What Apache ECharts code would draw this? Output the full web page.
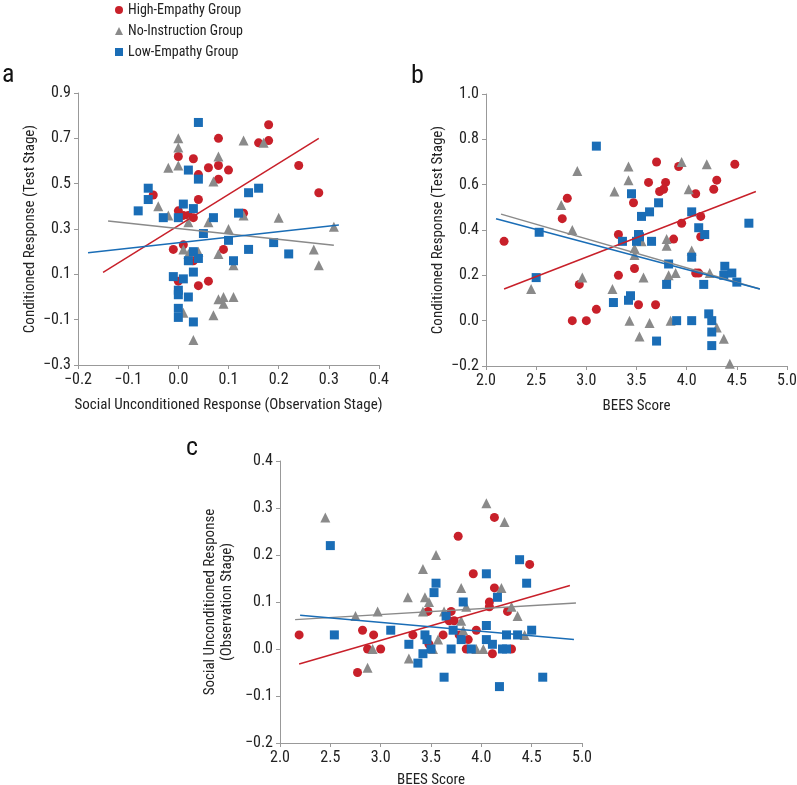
<!DOCTYPE html>
<html><head><meta charset="utf-8">
<script src="https://cdn.jsdelivr.net/npm/echarts@6/dist/echarts.min.js"></script>
<style>html,body{margin:0;padding:0;background:#fff}#c{width:797px;height:785px}</style>
</head><body><div id="c"></div>
<script>
// ---------- data ----------
const groupNames = ['High-Empathy Group', 'No-Instruction Group', 'Low-Empathy Group'];
// Panel a: x = Social Unconditioned Response, y = Conditioned Response
const aHigh = [[0.18,0.76],[0.18,0.69],[0.16,0.68],[0.08,0.70],[0.0,0.62],[0.03,0.61],[0.06,0.57],[0.08,0.58],[0.10,0.56],[0.04,0.54],[0.08,0.52],[0.24,0.58],[0.28,0.46],[-0.05,0.45],[0.04,0.43],[0.0,0.38],[0.01,0.36],[0.02,0.36],[0.03,0.35],[0.13,0.37],[-0.01,0.21],[0.01,0.23],[0.09,0.21],[0.03,0.16],[0.0,0.07],[0.04,0.05],[0.06,0.07]];
const aNo = [[0.0,0.70],[0.0,0.66],[-0.02,0.57],[0.0,0.58],[0.08,0.62],[0.07,0.51],[0.13,0.69],[0.17,0.68],[-0.04,0.40],[-0.02,0.36],[0.02,0.33],[0.06,0.33],[0.13,0.36],[0.20,0.35],[0.10,0.30],[0.31,0.31],[0.27,0.21],[0.28,0.14],[0.01,0.21],[0.02,0.19],[0.04,0.20],[0.08,0.19],[0.11,0.14],[0.08,-0.01],[0.09,0.0],[0.11,0.0],[0.09,-0.03],[0.07,-0.08],[0.01,-0.07],[0.03,-0.19]];
const aLow = [[0.04,0.77],[0.02,0.56],[0.04,0.52],[-0.06,0.48],[-0.06,0.43],[-0.08,0.38],[-0.03,0.35],[0.0,0.35],[0.01,0.41],[0.03,0.39],[0.07,0.35],[0.05,0.28],[0.12,0.37],[0.14,0.46],[0.16,0.48],[0.10,0.25],[0.14,0.21],[0.19,0.24],[0.22,0.19],[0.11,0.16],[0.03,0.20],[0.02,0.16],[0.04,0.17],[-0.01,0.09],[0.01,0.08],[0.03,0.11],[0.0,0.03],[0.0,0.01],[0.02,0.0],[0.0,-0.05],[0.0,-0.09],[0.03,-0.11]];
const aHighFit = [[-0.15,0.109],[0.28,0.70]];
const aNoFit = [[-0.14,0.335],[0.31,0.228]];
const aLowFit = [[-0.18,0.195],[0.32,0.318]];
// Panel b: x = BEES Score, y = Conditioned Response
const bHigh = [[2.18,0.35],[2.81,0.54],[2.76,0.45],[2.93,0.16],[2.86,0.0],[3.0,0.0],[3.10,0.05],[3.32,0.38],[3.32,0.20],[3.47,0.52],[3.48,0.23],[3.52,0.38],[3.52,0.07],[3.62,0.61],[3.70,0.70],[3.69,0.07],[3.73,0.57],[3.77,0.58],[3.79,0.61],[3.87,0.36],[3.92,0.68],[3.95,0.43],[4.09,0.56],[4.09,0.21],[4.12,0.21],[4.14,0.46],[4.14,0.37],[4.27,0.58],[4.30,0.62],[4.48,0.69]];
const bNo = [[2.45,0.14],[2.75,0.51],[2.86,0.40],[2.91,0.66],[2.96,0.19],[3.28,0.57],[3.26,0.14],[3.42,0.68],[3.42,0.62],[3.43,0.0],[3.48,0.32],[3.48,0.29],[3.55,0.35],[3.57,0.19],[3.53,-0.07],[3.63,-0.01],[3.80,0.36],[3.80,0.33],[3.82,0.20],[3.89,0.21],[3.84,0.0],[3.95,0.70],[4.02,0.58],[4.05,0.31],[4.20,0.69],[4.23,0.21],[4.30,-0.03],[4.37,-0.08],[4.43,-0.19]];
const bLow = [[3.10,0.77],[2.53,0.39],[2.50,0.19],[3.27,0.08],[3.36,0.35],[3.44,0.11],[3.42,0.09],[3.45,0.56],[3.50,0.35],[3.52,0.38],[3.53,0.37],[3.55,0.46],[3.63,0.48],[3.65,0.35],[3.72,0.52],[3.70,-0.09],[3.80,0.16],[3.82,0.25],[3.90,0.0],[4.05,0.48],[4.05,0.28],[4.05,0.0],[4.12,0.41],[4.18,0.38],[4.17,0.16],[4.22,0.03],[4.25,0.0],[4.25,-0.05],[4.25,-0.11],[4.38,0.24],[4.37,0.20],[4.45,0.21],[4.50,0.17],[4.62,0.43]];
const bHighFit = [[2.18,0.14],[4.69,0.57]];
const bNoFit = [[2.15,0.47],[4.73,0.14]];
const bLowFit = [[2.10,0.45],[4.73,0.14]];
// Panel c: x = BEES Score, y = Social Unconditioned Response
const cHigh = [[2.19,0.03],[2.77,-0.05],[2.82,0.04],[2.87,0.0],[2.93,0.03],[3.0,0.0],[3.32,0.03],[3.47,0.08],[3.48,0.01],[3.62,0.03],[3.70,0.08],[3.68,0.06],[3.73,0.06],[3.77,0.24],[3.78,0.03],[3.87,0.02],[3.85,0.0],[3.92,0.16],[3.95,0.04],[4.08,0.10],[4.08,0.09],[4.11,-0.01],[4.13,0.28],[4.13,0.13],[4.26,0.08],[4.30,0.0],[4.48,0.18]];
const cNo = [[2.45,0.28],[2.75,0.07],[2.87,-0.04],[2.92,0.0],[2.97,0.08],[3.27,0.11],[3.28,-0.02],[3.42,0.17],[3.44,0.11],[3.42,0.08],[3.48,0.10],[3.55,0.20],[3.57,0.02],[3.52,0.0],[3.63,0.08],[3.80,0.13],[3.80,0.06],[3.82,0.04],[3.85,0.09],[3.95,0.0],[4.02,0.0],[4.05,0.31],[4.20,0.13],[4.23,0.27],[4.30,0.09],[4.36,0.07],[4.43,0.03]];
const cLow = [[2.50,0.22],[2.54,0.03],[3.10,0.04],[3.28,0.01],[3.37,-0.03],[3.42,-0.01],[3.44,0.03],[3.46,0.02],[3.50,0.0],[3.53,0.12],[3.55,0.14],[3.65,0.07],[3.63,-0.06],[3.70,0.0],[3.72,0.04],[3.80,0.02],[3.82,0.10],[3.90,0.0],[4.05,0.16],[4.05,0.05],[4.05,0.02],[4.11,0.01],[4.16,0.11],[4.18,-0.08],[4.21,0.0],[4.25,0.0],[4.25,0.03],[4.36,0.03],[4.38,0.19],[4.45,0.14],[4.50,0.04],[4.61,-0.06]];
const cHighFit = [[2.19,-0.032],[4.88,0.135]];
const cNoFit = [[2.15,0.0625],[4.94,0.098]];
const cLowFit = [[2.20,0.072],[4.92,0.02]];
const panelLabels = ['a','b','c'];
const xTitles = ['Social Unconditioned Response (Observation Stage)','BEES Score','BEES Score'];
const yTitles = ['Conditioned Response (Test Stage)','Conditioned Response (Test Stage)','Social Unconditioned Response\n(Observation Stage)'];

// ---------- styling ----------
const FONT = '"Liberation Sans Narrow", "Roboto Condensed", "Liberation Sans", sans-serif';
const RED = '#c8202a', GRAY = '#8a8a8a', BLUE = '#1a6db6';
const colors = [RED, GRAY, BLUE];
const symbols = ['circle', 'triangle', 'rect'];
const sizes = [9, 10, 9];

function fmt(v){ if (Math.abs(v) < 1e-9) return '0.0'; return (v < 0 ? '\u2212' : '') + Math.abs(v).toFixed(1); }

function axisBase(){
  return {
    axisLine: {show: true, onZero: false, lineStyle: {color: '#999', width: 1}},
    axisTick: {show: true, length: 4, lineStyle: {color: '#999'}},
    splitLine: {show: false},
    axisLabel: {color: '#222', fontSize: 16, fontFamily: FONT, formatter: fmt, margin: 7},
    nameLocation: 'middle',
    nameTextStyle: {color: '#222', fontSize: 15, fontFamily: FONT, lineHeight: 17}
  };
}

const grids = [
  {left: 78, top: 93, width: 301, height: 272, containLabel: false, outerBoundsMode: 'none'},
  {left: 486, top: 94, width: 301, height: 272, containLabel: false, outerBoundsMode: 'none'},
  {left: 280, top: 461, width: 302, height: 282, containLabel: false, outerBoundsMode: 'none'}
];
const xRanges = [[-0.2,0.4,0.1],[2.0,5.0,0.5],[2.0,5.0,0.5]];
const yRanges = [[-0.3,0.9,0.2],[-0.2,1.0,0.2],[-0.2,0.4,0.1]];
const xGaps = [32, 32, 29];
const yGaps = [34, 39, 44];

const xAxes = xRanges.map((r,i) => Object.assign(axisBase(), {
  type: 'value', gridIndex: i, min: r[0], max: r[1], interval: r[2],
  name: xTitles[i], nameGap: xGaps[i]
}));
const yAxes = yRanges.map((r,i) => Object.assign(axisBase(), {
  type: 'value', gridIndex: i, min: r[0], max: r[1], interval: r[2],
  name: yTitles[i], nameGap: yGaps[i]
}));

const panels = [[aHigh,aNo,aLow],[bHigh,bNo,bLow],[cHigh,cNo,cLow]];
const fits = [[aHighFit,aNoFit,aLowFit],[bHighFit,bNoFit,bLowFit],[cHighFit,cNoFit,cLowFit]];

const series = [];
panels.forEach((grp, p) => {
  grp.forEach((data, g) => {
    series.push({
      type: 'scatter', name: groupNames[g], xAxisIndex: p, yAxisIndex: p,
      data: data, symbol: symbols[g], symbolSize: sizes[g],
      itemStyle: {color: colors[g], opacity: 1}, z: 2 + g
    });
  });
});
fits.forEach((grp, p) => {
  grp.forEach((data, g) => {
    series.push({
      type: 'line', name: 'fit-' + p + '-' + g, xAxisIndex: p, yAxisIndex: p,
      data: data, showSymbol: false, symbol: 'none', silent: true,
      lineStyle: {color: colors[g], width: 1.5}, z: 10
    });
  });
});

const chart = echarts.init(document.getElementById('c'), null, {renderer: 'canvas'});
chart.setOption({
  animation: false,
  backgroundColor: '#fff',
  textStyle: {fontFamily: FONT},
  grid: grids,
  xAxis: xAxes,
  yAxis: yAxes,
  legend: {
    orient: 'vertical', left: 110, top: -2, itemWidth: 8, itemHeight: 8, itemGap: 7,
    data: groupNames.map((n,i) => ({name: n, icon: symbols[i]})),
    textStyle: {fontSize: 14, color: '#222', fontFamily: FONT}
  },
  graphic: [
    {type: 'text', left: 2, top: 62, style: {text: panelLabels[0], fontSize: 26, fontFamily: FONT, fill: '#111'}},
    {type: 'text', left: 411, top: 63, style: {text: panelLabels[1], fontSize: 26, fontFamily: FONT, fill: '#111'}},
    {type: 'text', left: 186, top: 435, style: {text: panelLabels[2], fontSize: 26, fontFamily: FONT, fill: '#111'}}
  ],
  series: series
});
</script></body></html>
